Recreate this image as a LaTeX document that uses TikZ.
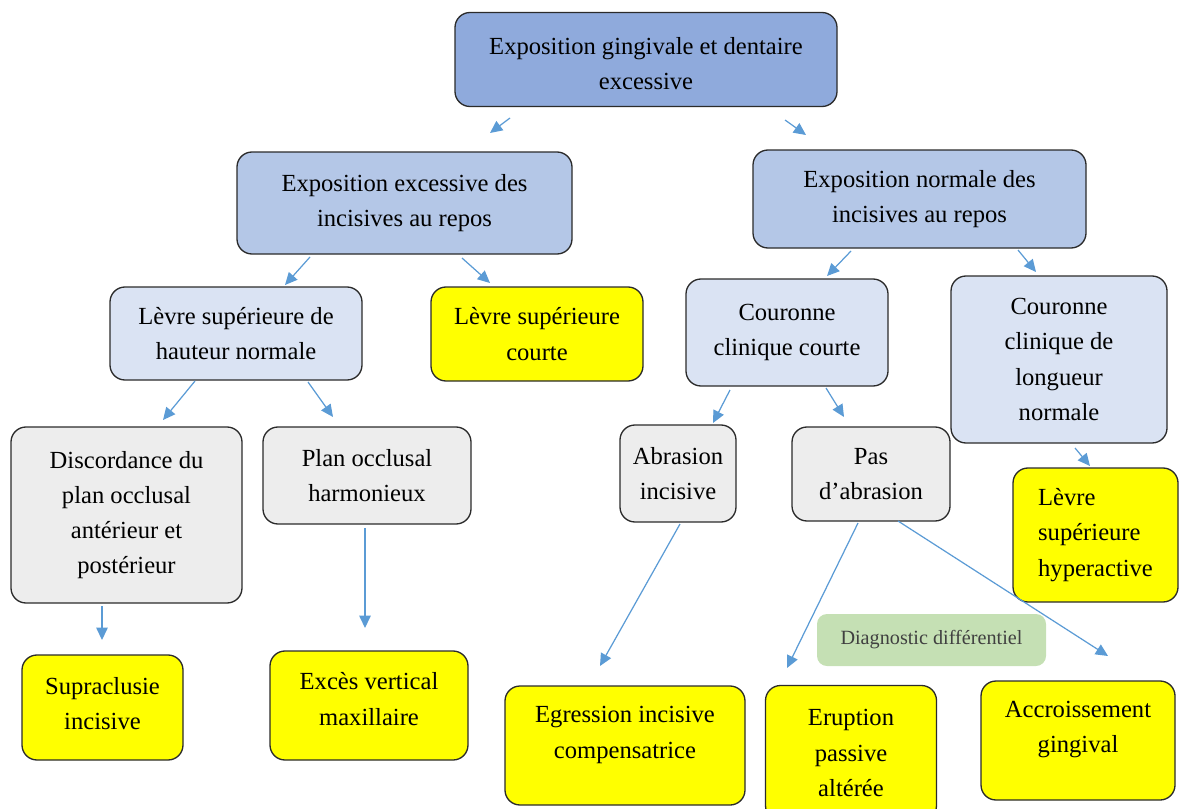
\documentclass[tikz,border=0pt]{standalone}
\usepackage{fontspec}
\setmainfont{Liberation Serif}
\usetikzlibrary{arrows.meta}
\definecolor{rootblue}{HTML}{8FAADC}
\definecolor{midblue}{HTML}{B4C7E7}
\definecolor{paleblue}{HTML}{DAE3F3}
\definecolor{palegrey}{HTML}{EDEDED}
\definecolor{boxyellow}{HTML}{FFFF00}
\definecolor{palegreen}{HTML}{C5E0B4}
\definecolor{linkblue}{HTML}{5B9BD5}
\definecolor{boxline}{HTML}{2B2B2B}

\begin{document}
\begin{tikzpicture}[x=0.02cm,y=-0.02cm,>={Triangle[length=7pt,width=6.5pt]},
    box/.style={draw=boxline,line width=0.75pt,rounded corners=0.3cm,align=center,
      inner sep=0pt,font=\fontsize{14}{20}\selectfont},
    sz/.style 2 args={minimum width=#1*0.02cm,minimum height=#2*0.02cm},
    link/.style={->,draw=linkblue,line width=0.7pt}]
        \useasboundingbox (0,0) rectangle (1179,808);
        % level 0 and 1
        \node[box,sz={382}{94},fill=rootblue,text height=34pt] (root) at (646,59.5) {Exposition gingivale et dentaire\\excessive};
        \node[box,sz={335}{102},fill=midblue] (exces) at (404.5,203) {Exposition excessive des\\incisives au repos};
        \node[box,sz={333}{98},fill=midblue] (normale) at (919.5,199) {Exposition normale des\\incisives au repos};
        % level 2
        \node[box,sz={252}{93},fill=paleblue] (hnormale) at (236,333.5) {Lèvre supérieure de\\hauteur normale};
        \node[box,sz={212}{94},fill=boxyellow] (lcourte) at (537,334) {Lèvre supérieure\\courte};
        \node[box,sz={202}{107},fill=paleblue] (ccourte) at (787,332.5) {Couronne\\clinique courte};
        \node[box,sz={216}{167},fill=paleblue] (cnormale) at (1059,359.5) {Couronne\\clinique de\\longueur\\normale};
        % level 3
        \node[box,sz={231}{176},fill=palegrey] (discord) at (126.5,515) {Discordance du\\plan occlusal\\antérieur et\\postérieur};
        \node[box,sz={208}{97},fill=palegrey] (harmon) at (367,475.5) {Plan occlusal\\harmonieux};
        \node[box,sz={116}{97},fill=palegrey] (abrasion) at (678,473.5) {Abrasion\\incisive};
        \node[box,sz={158}{94},fill=palegrey] (pasabr) at (871,474) {Pas\\d’abrasion};
        \node[box,sz={165}{134},fill=boxyellow,align=left] (hyper) at (1095.5,535) {Lèvre\\supérieure\\hyperactive};
        % leaves
        \node[box,sz={161}{105},fill=boxyellow,text depth=5pt] (supra) at (102.5,707.5) {Supraclusie\\incisive};
        \node[box,sz={198}{109},fill=boxyellow,text depth=7.5pt] (vertical) at (369,705.5) {Excès vertical\\maxillaire};
        \node[box,sz={240}{119},fill=boxyellow,text depth=15pt] (egression) at (625,745.5) {Egression incisive\\compensatrice};
        \node[box,sz={171}{135},fill=boxyellow] (eruption) at (851,753) {Eruption\\passive\\altérée};
        \node[box,sz={194}{119},fill=boxyellow,text depth=15.5pt] (accroiss) at (1078,740.5) {Accroissement\\gingival};
        \node[sz={229}{52},fill=palegreen,rounded corners=0.2cm,text=black!75,
          font=\fontsize{11.5}{14}\selectfont] (diag) at (931.5,640) {Diagnostic différentiel};
        % arrow ends
        \coordinate (root-l) at (510,118);      \coordinate (exces-in) at (490,133);
        \coordinate (root-r) at (785,120);      \coordinate (normale-in) at (806,135);
        \coordinate (exces-l) at (310,257);     \coordinate (hnormale-in) at (285,285);
        \coordinate (exces-r) at (462,258);     \coordinate (lcourte-in) at (490,283);
        \coordinate (hnormale-l) at (195,381);  \coordinate (discord-in) at (163,420);
        \coordinate (hnormale-r) at (308,382);  \coordinate (harmon-in) at (333,417);
        \coordinate (normale-l) at (851,251);   \coordinate (ccourte-in) at (827,276);
        \coordinate (normale-r) at (1018,250);  \coordinate (cnormale-in) at (1036,272);
        \coordinate (ccourte-l) at (730,390);   \coordinate (abrasion-in) at (713,423);
        \coordinate (ccourte-r) at (826,388);   \coordinate (pasabr-in) at (844,417);
        \coordinate (cnormale-out) at (1075,448); \coordinate (hyper-in) at (1090,466);
        \coordinate (discord-out) at (102,606); \coordinate (supra-in) at (102,640);
        \coordinate (harmon-out) at (365,528);  \coordinate (vertical-in) at (365,628);
        \coordinate (abrasion-out) at (680,524); \coordinate (egression-in) at (600,666);
        \coordinate (pasabr-l) at (858,523);    \coordinate (eruption-in) at (787,668);
        \coordinate (pasabr-r) at (898,521);    \coordinate (accroiss-in) at (1108,656);
        % arrows
        \draw[link] (root-l) -- (exces-in);
        \draw[link] (root-r) -- (normale-in);
        \draw[link] (exces-l) -- (hnormale-in);
        \draw[link] (exces-r) -- (lcourte-in);
        \draw[link] (hnormale-l) -- (discord-in);
        \draw[link] (hnormale-r) -- (harmon-in);
        \draw[link] (normale-l) -- (ccourte-in);
        \draw[link] (normale-r) -- (cnormale-in);
        \draw[link] (ccourte-l) -- (abrasion-in);
        \draw[link] (ccourte-r) -- (pasabr-in);
        \draw[link] (cnormale-out) -- (hyper-in);
        \draw[link] (discord-out) -- (supra-in);
        \draw[link] (harmon-out) -- (vertical-in);
        \draw[link] (abrasion-out) -- (egression-in);
        \draw[link] (pasabr-l) -- (eruption-in);
        \draw[link] (pasabr-r) -- (accroiss-in);
      \end{tikzpicture}
\end{document}
